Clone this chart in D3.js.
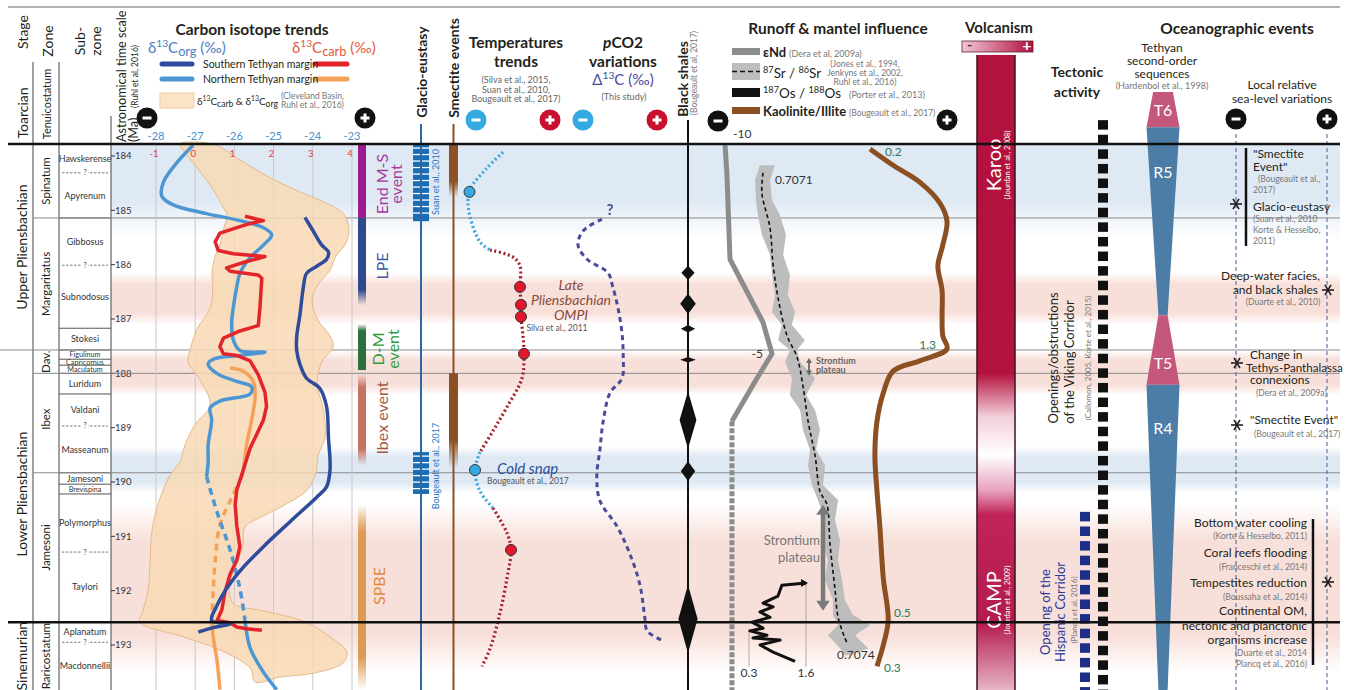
<!DOCTYPE html>
<html><head><meta charset="utf-8">
<script src="https://cdn.jsdelivr.net/npm/d3@7"></script>
<style>body{margin:0;background:#fff}svg{display:block;font-family:Lato,'Open Sans',sans-serif}</style>
</head><body><svg id="chart" width="1349" height="690"></svg>
<script>
// ---------------- DATA (ages in Ma) ----------------
const ageTicks = [184, 185, 186, 187, 188, 189, 190, 191, 192, 193];
const stageNames = ['Upper Pliensbachian', 'Lower Pliensbachian', 'Sinemurian'];
const stageBounds = [183.78, 187.57, 192.58, 193.83];
const zoneNames = ['Spinatum', 'Margaritatus', 'Dav.', 'Ibex', 'Jamesoni', 'Raricostatum'];
const zoneBounds = [183.78, 185.14, 187.57, 188.0, 189.83, 192.58, 193.83];
const subzoneNames = ['Hawskerense', 'Apyrenum', 'Gibbosus', 'Subnodosus', 'Stokesi', 'Figulinum', 'Capricornus',
  'Maculatum', 'Luridum', 'Valdani', 'Masseanum', 'Jamesoni', 'Brevispina', 'Polymorphus', 'Taylori', 'Aplanatum', 'Macdonnellii'];
const subzoneBounds = [183.78, 184.31, 185.14, 186.01, 187.17, 187.57, 187.74, 187.85, 188.0, 188.38, 188.97,
  189.83, 190.04, 190.22, 191.29, 192.58, 192.95, 193.83];
const subzoneUncertain = [184.31, 186.01, 188.97, 191.29, 192.95];

const bandFrom = [183.78, 186.15, 187.57, 189.35, 190.4];
const bandTo = [185.55, 187.1, 188.4, 190.2, 193.5];
const bandKind = ['blue', 'pink', 'pink', 'blue', 'pink'];

// carbon isotopes
const carbTicks = [-1, 0, 1, 2, 3, 4];
const orgTicks = [-28, -27, -26, -25, -24, -23];
const orgNorthAge = [183.8, 184.09, 184.48, 184.74, 184.90, 185.06, 185.19, 185.32, 185.45, 185.64, 185.87, 186.16, 186.41,
  186.80, 187.06, 187.38, 187.58, 187.61, 187.67, 187.74, 187.83, 188.0, 188.15, 188.25, 188.38, 188.51, 188.64, 188.86,
  189.32, 189.64, 189.90, 190.54, 191.25, 191.96, 192.54, 193.05, 193.50, 193.82];
const orgNorthVal = [-27.05, -27.43, -27.81, -27.85, -27.56, -26.71, -25.86, -25.26, -25.05, -25.26, -25.60, -25.86, -25.94,
  -26.03, -26.07, -26.03, -25.86, -25.22, -25.86, -26.54, -26.67, -26.45, -25.94, -25.56, -25.60, -26.37, -26.62, -26.58,
  -26.67, -26.67, -26.71, -26.45, -26.11, -25.86, -25.73, -25.60, -25.26, -24.92];
const orgNorthGap = [189.9, 192.54];
const orgSouthAge = [185.13, 185.38, 185.64, 185.77, 185.90, 186.03, 186.16, 186.41, 186.93, 187.32, 187.58, 187.83, 188.09,
  188.28, 188.61, 189.19, 189.77, 190.09, 190.28, 190.73, 191.19, 191.64, 191.96, 192.28, 192.55, 192.61, 192.68, 192.76];
const orgSouthVal = [-24.20, -23.99, -23.77, -23.60, -23.65, -23.90, -24.16, -24.24, -24.33, -24.41, -24.41, -24.33, -24.16,
  -23.82, -23.65, -23.60, -23.56, -23.65, -23.90, -24.58, -25.26, -25.86, -26.20, -26.45, -26.58, -26.11, -26.54, -26.92];
const carbSouthAge = [185.11, 185.19, 185.25, 185.42, 185.58, 185.74, 185.80, 185.85, 185.96, 186.06, 186.12, 186.19, 186.25,
  186.80, 187.12, 187.22, 187.35, 187.51, 187.64, 187.67, 187.77, 188.03, 188.35, 188.61, 188.86, 189.12, 189.38, 189.77,
  190.15, 190.41, 190.80, 191.19, 191.44, 191.70, 192.02, 192.35, 192.55, 192.59, 192.67, 192.70, 192.73];
const carbSouthVal = [1.27, 1.74, 1.36, 0.63, 0.51, 0.59, 0.97, 1.78, 1.23, 0.80, 0.89, 1.61, 1.70,
  1.65, 1.61, 1.14, 0.72, 0.63, 0.72, 1.06, 1.40, 1.61, 1.78, 1.82, 1.74, 1.57, 1.40, 1.23,
  1.06, 1.02, 1.06, 1.14, 1.06, 0.89, 0.76, 0.68, 0.56, 0.89, 1.06, 1.31, 1.70];
const carbNorthAge = [187.90, 187.96, 188.15, 188.41, 188.86, 189.32, 189.77, 189.90, 190.35, 190.80, 191.44, 192.02, 192.54,
  192.86, 193.25, 193.82];
const carbNorthVal = [0.89, 1.23, 1.48, 1.53, 1.44, 1.31, 1.23, 1.19, 0.89, 0.63, 0.51, 0.46, 0.42, 0.46, 0.55, 0.63];
const carbNorthGap = [189.9, 192.54];
// Cleveland Basin envelope (carb units), clockwise from top-left
const envAge = [183.78, 183.78, 184.07, 184.40, 184.66, 184.90, 185.09, 185.40, 185.64, 185.84, 186.10, 186.37, 186.65,
  187.02, 187.31, 187.52, 187.79, 188.21, 188.62, 189.19, 189.52, 189.83, 190.15, 190.42, 190.61, 190.83, 191.16, 191.49,
  191.84, 192.23, 192.37, 192.56, 192.85, 193.13, 193.33, 193.52, 193.59, 193.68, 193.42, 193.09, 192.83, 192.58, 192.36,
  191.99, 191.44, 190.88, 190.42, 190.15, 189.87, 189.63, 189.32, 188.95, 188.58, 188.12, 187.79, 187.57, 187.18, 186.80,
  186.41, 186.15, 185.84, 185.64, 185.38, 185.07, 184.94, 184.61, 184.22, 183.89];
const envVal = [-0.39, 0.45, 1.14, 1.91, 2.67, 3.44, 3.82, 3.92, 3.82, 3.59, 3.44, 3.13, 2.98,
  3.13, 3.44, 3.52, 3.23, 3.11, 3.26, 3.31, 3.13, 3.08, 2.85, 2.29, 1.78, 1.27, 1.22, 1.07,
  0.89, 0.96, 1.73, 2.75, 3.44, 3.87, 3.77, 3.01, 2.16, 1.53, 1.40, 0.63, -0.39, -1.41, -1.33,
  -1.20, -1.15, -1.10, -0.95, -0.82, -0.64, -0.39, -0.26, -0.01, 0.38, 0.12, -0.18, -0.13, 0.05, 0.38,
  0.45, 0.43, 0.51, 0.63, 0.71, 0.81, 0.71, 0.45, 0.05, -0.31];

// carbon panel events
const eventNames = ['End M-S event', 'LPE', 'D-M event', 'Ibex event', 'SPBE'];
const eventFrom = [183.78, 185.14, 187.09, 188.0, 190.42];
const eventTo = [185.14, 186.75, 187.94, 189.7, 193.83];

// glacio-eustasy and smectite events
const glacioFrom = [183.78, 189.45];
const glacioTo = [185.2, 190.22];
const smectiteFrom = [183.78, 188.0];
const smectiteTo = [184.75, 189.75];

// temperatures (relative index, cold 0 -> warm 10)
const tempAge = [183.93, 184.22, 184.61, 184.81, 185.12, 185.58, 185.73, 185.86, 186.02, 186.41, 186.74, 186.96, 187.31,
  187.64, 188.09, 188.62, 189.06, 189.45, 189.78, 190.17, 190.48, 190.94, 191.25, 191.77, 192.41, 193.07, 193.39];
const tempVal = [4.3, 2.7, 1.0, 0.8, 1.0, 2.0, 3.0, 5.3, 6.0, 6.0, 6.1, 6.1, 6.3, 6.4, 6.2, 4.7, 3.3, 2.0, 1.5, 2.0, 3.3,
  4.7, 5.1, 4.7, 4.0, 3.0, 2.2];
const tempColdFrom = [183.8, 189.5];
const tempColdTo = [185.78, 190.45];
const tempDotAge = [184.66, 186.41, 186.74, 186.96, 187.64, 189.78, 191.25];
const tempDotCold = [true, false, false, false, false, true, false];

// pCO2 (relative index)
const pco2Age = [185.16, 185.38, 185.64, 185.90, 186.15, 186.41, 186.80, 187.26, 187.70, 188.09, 188.36, 188.88, 189.39,
  189.91, 190.35, 190.81, 191.33, 191.90, 192.49, 192.74, 192.91];
const pco2Val = [2.75, 0.38, -0.25, 0.88, 3.5, 4.1, 4.75, 5.25, 5.4, 5.25, 3.75, 2.9, 2.5, 2.1, 2.5, 4.6, 6.25, 7.5, 8.1,
  8.4, 10.2];

// black shales: centre age, half duration (Ma), intensity
const shaleAge = [186.15, 186.72, 187.18, 187.75, 188.86, 189.8, 192.52];
const shaleHalf = [0.13, 0.19, 0.07, 0.05, 0.53, 0.18, 0.63];
const shaleInt = [0.55, 0.65, 0.6, 0.65, 0.7, 0.6, 0.8];

// runoff & mantle
const ndAge = [183.78, 184.35, 185.9, 187.06, 187.64, 188.09, 188.88];
const ndVal = [-10, -9.79, -9.47, -5.96, -5.0, -6.6, -9.26];
const ndDashedTo = 193.83;
const srAge = [184.31, 184.68, 185.33, 185.97, 186.61, 187.31, 187.70, 188.23, 188.88, 189.52, 190.17, 190.42, 191.12,
  191.97, 192.49, 192.87, 193.0];
const srVal = [0.707100, 0.707096, 0.707125, 0.707135, 0.707153, 0.707185, 0.707220, 0.707241, 0.707259, 0.707284,
  0.707301, 0.707326, 0.707336, 0.707354, 0.707365, 0.707389, 0.707400];
const srEnvAge = [184.17, 184.44, 184.81, 185.09, 185.45, 185.82, 186.19, 186.56, 186.87, 187.11, 187.39, 187.57, 187.79,
  188.09, 188.40, 188.68, 189.04, 189.41, 189.69, 190.06, 190.33, 190.70, 191.07, 191.44, 191.80, 192.17, 192.45, 192.63,
  192.82, 193.06, 193.19];
const srEnvLo = [0.707089, 0.707072, 0.707075, 0.707082, 0.707096, 0.707125, 0.707132, 0.707142, 0.707132, 0.707167,
  0.707153, 0.707195, 0.707178, 0.707202, 0.707195, 0.707231, 0.707241, 0.707266, 0.707259, 0.707273, 0.707294, 0.707319,
  0.707308, 0.707329, 0.707319, 0.707347, 0.707347, 0.707365, 0.707329, 0.707372, 0.707389];
const srEnvHi = [0.707142, 0.707125, 0.707132, 0.707160, 0.707181, 0.707171, 0.707195, 0.707188, 0.707213, 0.707202,
  0.707248, 0.707220, 0.707231, 0.707284, 0.707252, 0.707284, 0.707301, 0.707287, 0.707319, 0.707312, 0.707365, 0.707354,
  0.707372, 0.707365, 0.707379, 0.707389, 0.707418, 0.707478, 0.707425, 0.707471, 0.707407];
const srPlateauSmall = [187.72, 188.04];
const srPlateauBig = [190.42, 192.37];
const osAge = [191.86, 191.90, 192.10, 192.23, 192.30, 192.39, 192.49, 192.58, 192.69, 192.74, 192.82, 192.87, 192.91,
  193.0, 193.13, 193.30];
const osVal = [1.6, 1.05, 0.96, 0.62, 0.85, 0.55, 0.78, 0.37, 0.62, 0.32, 0.71, 0.39, 1.01, 0.55, 0.85, 1.35];
const kaolAge = [183.87, 184.17, 184.48, 184.87, 185.2, 185.64, 186.02, 186.48, 186.93, 187.31, 187.55, 187.77, 187.96,
  188.36, 188.88, 189.52, 190.17, 190.81, 191.77, 192.54, 193.0, 193.39];
const kaolVal = [0.2, 0.53, 0.91, 1.2, 1.3, 1.24, 1.17, 1.23, 1.23, 1.24, 1.3, 0.91, 0.53, 0.39, 0.3, 0.27, 0.3, 0.34,
  0.39, 0.46, 0.39, 0.3];

// volcanism & tectonics
const karooAge = [182.14, 188.3];
const campAge = [190.0, 193.83];
const vikingAge = [183.34, 193.83];
const hispanicAge = [190.55, 193.83];

// Tethyan 2nd-order sequences: relative amplitude at top / base
const seqNames = ['T6', 'R5', 'T5', 'R4'];
const seqTop = [182.82, 183.47, 186.93, 188.21];
const seqBase = [183.47, 186.93, 188.21, 193.83];
const seqAmpTop = [0.6, 1, 0.28, 1];
const seqAmpBase = [1, 0.28, 1, 0.28];

// ---------------- SET UP ----------------
const W = 1349, H = 690;
const svg = d3.select('#chart');
const defs = svg.append('defs');
const y = d3.scaleLinear().domain([184, 193]).range([156, 645]);
const X0 = 111, X1 = 1340;
const TOP = stageBounds[0], BASE = stageBounds[stageBounds.length - 1];
const yTop = y(TOP);

const carbX = d3.scaleLinear().domain([-1, 4]).range([156, 352]);
const orgX = d3.scaleLinear().domain([-28, -23]).range([156, 352]);
const tempX = d3.scaleLinear().domain([0, 10]).range([460, 560]);
const pco2X = d3.scaleLinear().domain([0, 10]).range([580, 660]);
const shaleW = d3.scaleLinear().domain([0, 1]).range([0, 12]);
const ndX = d3.scaleLinear().domain([-10, -5]).range([725, 772]);
const srX = d3.scaleLinear().domain([0.7071, 0.7074]).range([763, 848]);
const osX = d3.scaleLinear().domain([0.3, 1.6]).range([749, 806]);
const kaolX = d3.scaleLinear().domain([0.2, 1.3]).range([870, 947]);
const seqW = d3.scaleLinear().domain([0, 1]).range([0, 16.5]);

svg.append('rect').attr('width', W).attr('height', H).attr('fill', '#fff');

function txt(g, x, yy, s, o = {}) {
  const t = g.append('text').attr('x', x).attr('y', yy).text(s)
    .attr('font-size', o.size || 12).attr('fill', o.fill || '#231f20')
    .attr('text-anchor', o.anchor || 'start');
  if (o.weight) t.attr('font-weight', o.weight);
  if (o.italic) t.attr('font-style', 'italic');
  if (o.rot) t.attr('transform', `rotate(${o.rot},${x},${yy})`);
  if (o.dy) t.attr('dy', o.dy);
  return t;
}
function vtxt(x, yy, s, o = {}) { // vertical text centred at (x, yy)
  return txt(svg, x, yy, s, Object.assign({ anchor: 'middle', rot: -90, dy: '0.35em' }, o));
}
function rich(x, yy, parts, o = {}) {
  const size = o.size || 12;
  const t = txt(svg, x, yy, '', o);
  let shift = 0;
  parts.forEach(([s, k]) => {
    const target = k === 'sup' ? -0.4 * size : k === 'sub' ? 0.22 * size : 0;
    const ts = t.append('tspan').text(s).attr('dy', target - shift);
    shift = target;
    if (k) ts.attr('font-size', size * (k === 'sub' ? 0.85 : 0.68));
  });
  return t;
}
function sign(x, yy, s, fill) {
  svg.append('circle').attr('cx', x).attr('cy', yy).attr('r', 10.5).attr('fill', fill);
  svg.append('line').attr('x1', x - 4.5).attr('x2', x + 4.5).attr('y1', yy).attr('y2', yy)
    .attr('stroke', '#fff').attr('stroke-width', 3);
  if (s === '+') svg.append('line').attr('x1', x).attr('x2', x).attr('y1', yy - 4.5).attr('y2', yy + 4.5)
    .attr('stroke', '#fff').attr('stroke-width', 3);
}
function star(x, yy, c = '#231f20') {
  [0, 60, 120].forEach(a => {
    const r = 6, dx = r * Math.cos(a * Math.PI / 180), dy = r * Math.sin(a * Math.PI / 180);
    svg.append('line').attr('x1', x - dx).attr('x2', x + dx).attr('y1', yy - dy).attr('y2', yy + dy)
      .attr('stroke', c).attr('stroke-width', 1.6);
  });
}
function vgrad(id, stops) {
  const g = defs.append('linearGradient').attr('id', id).attr('x1', 0).attr('x2', 0).attr('y1', 0).attr('y2', 1);
  stops.forEach(([o, c, a]) => g.append('stop').attr('offset', o).attr('stop-color', c).attr('stop-opacity', a == null ? 1 : a));
}
function runs(ages, vals, inGap) {
  const out = [];
  let cur = null;
  for (let i = 0; i < ages.length - 1; i++) {
    const d = inGap((ages[i] + ages[i + 1]) / 2);
    if (!cur || cur.dash !== d) { cur = { dash: d, pts: [[ages[i], vals[i]]] }; out.push(cur); }
    cur.pts.push([ages[i + 1], vals[i + 1]]);
  }
  return out;
}
function series(ages, vals, xs, o) {
  const line = d3.line().x(d => xs(d[1])).y(d => y(d[0])).curve(o.curve || d3.curveLinear);
  const gap = o.gap || [];
  runs(ages, vals, a => gap.some(([f, t]) => a > f && a < t)).forEach(r => {
    svg.append('path').attr('d', line(r.pts)).attr('fill', 'none').attr('stroke', o.color)
      .attr('stroke-width', o.width || 3.5).attr('stroke-linejoin', 'round')
      .attr('stroke-dasharray', r.dash ? (o.dash || '7 5') : null);
  });
}

// ---------------- BACKGROUND BANDS ----------------
const BLUE = '#dfe9f4', PINK = '#f8e0da';
vgrad('band-blue', [[0, BLUE, 0], [0.22, BLUE], [0.78, BLUE], [1, BLUE, 0]]);
vgrad('band-pink', [[0, PINK, 0], [0.22, PINK], [0.78, PINK], [1, PINK, 0]]);
vgrad('band-blue-top', [[0, BLUE], [0.6, BLUE], [0.78, BLUE, 0.45], [1, BLUE, 0]]);
bandFrom.forEach((f, i) => {
  const id = bandKind[i] === 'blue' && f === TOP ? 'band-blue-top' : 'band-' + bandKind[i];
  svg.append('rect').attr('x', X0).attr('width', X1 - X0).attr('y', y(f)).attr('height', y(bandTo[i]) - y(f))
    .attr('fill', `url(#${id})`);
});

// ---------------- STRATIGRAPHY COLUMNS ----------------
svg.append('line').attr('x1', 8).attr('x2', X1).attr('y1', 7).attr('y2', 7).attr('stroke', '#666').attr('stroke-width', 1);
[33, 59].forEach(x => svg.append('line').attr('x1', x).attr('x2', x).attr('y1', 62).attr('y2', H)
  .attr('stroke', '#444').attr('stroke-width', 1));
svg.append('line').attr('x1', X0).attr('x2', X0).attr('y1', 116).attr('y2', H).attr('stroke', '#444');

vtxt(23, 32, 'Stage', { size: 14 });
vtxt(48, 41, 'Zone', { size: 14 });
vtxt(80, 41, 'Sub-', { size: 14 });
vtxt(96, 41, 'zone', { size: 14 });
vtxt(23, 113, 'Toarcian', { size: 14 });
vtxt(47, 104, 'Tenuicostatum', { size: 11 });
txt(svg, 122, 142, 'Astronomical time scale', { size: 12.6, rot: -90, dy: '0.35em' });
txt(svg, 134, 142, '(Ma)', { size: 12.6, rot: -90, dy: '0.35em' });
txt(svg, 135, 108, '(Ruhl et al, 2016)', { size: 8.5, rot: -90, dy: '0.35em' });

stageNames.forEach((n, i) => vtxt(22, y((stageBounds[i] + stageBounds[i + 1]) / 2) + (i === 1 ? 8 : 0), n, { size: 14 }));
zoneNames.forEach((n, i) => vtxt(46, y((zoneBounds[i] + zoneBounds[i + 1]) / 2) + (i === 3 ? -4 : 0), n,
  { size: 11.5 }));
subzoneNames.forEach((n, i) => {
  const h = y(subzoneBounds[i + 1]) - y(subzoneBounds[i]);
  txt(svg, 85, (y(subzoneBounds[i]) + y(subzoneBounds[i + 1])) / 2, n,
    { size: h < 10 ? 7.2 : 9, anchor: 'middle', dy: '0.35em', fill: '#333' });
});
subzoneBounds.slice(1, -1).forEach(b => {
  if (subzoneUncertain.includes(b)) {
    svg.append('line').attr('x1', 62).attr('x2', 108).attr('y1', y(b)).attr('y2', y(b))
      .attr('stroke', '#555').attr('stroke-width', 0.8).attr('stroke-dasharray', '2.5 1.5');
    svg.append('rect').attr('x', 82).attr('y', y(b) - 4).attr('width', 6).attr('height', 8).attr('fill', '#fff');
    txt(svg, 85, y(b), '?', { size: 7, anchor: 'middle', dy: '0.35em', fill: '#444' });
  } else {
    svg.append('line').attr('x1', 59).attr('x2', X0).attr('y1', y(b)).attr('y2', y(b)).attr('stroke', '#555');
  }
});
ageTicks.forEach(a => {
  svg.append('line').attr('x1', X0).attr('x2', X0 + 4).attr('y1', y(a)).attr('y2', y(a)).attr('stroke', '#333');
  txt(svg, X0 + 4, y(a), a, { size: 9.5, dy: '0.35em', fill: '#333' });
});

// thin age lines across all panels
[185.14, 187.57, 188.0, 189.83].forEach(b => {
  svg.append('line').attr('x1', b === 187.57 ? 0 : 33).attr('x2', X1).attr('y1', y(b)).attr('y2', y(b))
    .attr('stroke', '#8a8a8a').attr('stroke-width', 1);
});

// ---------------- CARBON ISOTOPES ----------------
carbTicks.forEach(t => svg.append('line').attr('x1', carbX(t)).attr('x2', carbX(t)).attr('y1', yTop).attr('y2', H)
  .attr('stroke', '#c8c8c8').attr('stroke-width', 1));
const envLine = d3.line().x(d => carbX(d[1])).y(d => y(d[0])).curve(d3.curveCatmullRomClosed.alpha(0.5));
svg.append('path').attr('d', envLine(envAge.map((a, i) => [a, envVal[i]])))
  .attr('fill', '#f8d9b4').attr('fill-opacity', 0.85).attr('stroke', '#e7b98a').attr('stroke-width', 1);

series(carbNorthAge, carbNorthVal, carbX, { color: '#f4a25a', curve: d3.curveCatmullRom, gap: [carbNorthGap] });
series(orgNorthAge, orgNorthVal, orgX, { color: '#4b96d3', gap: [orgNorthGap], curve: d3.curveCatmullRom.alpha(0.5) });
series(carbSouthAge, carbSouthVal, carbX, { color: '#e3242b' });
series(orgSouthAge, orgSouthVal, orgX, { color: '#2e4c9b', curve: d3.curveCatmullRom.alpha(0.5) });

txt(svg, 252, 35, 'Carbon isotope trends', { size: 15.5, weight: 'bold', anchor: 'middle' });
rich(148, 53, [['δ'], ['13', 'sup'], ['C'], ['org', 'sub'], [' (‰)']], { size: 15, fill: '#4a80c4' });
rich(292, 53, [['δ'], ['13', 'sup'], ['C'], ['carb', 'sub'], [' (‰)']], { size: 15, fill: '#e05a3c' });
[['#2e4c9b', '#e3242b', 'Southern Tethyan margin', 64], ['#4b96d3', '#f4a25a', 'Northern Tethyan margin', 79]]
  .forEach(([c1, c2, s, yy]) => {
    svg.append('line').attr('x1', 162).attr('x2', 192).attr('y1', yy).attr('y2', yy).attr('stroke', c1)
      .attr('stroke-width', 5).attr('stroke-linecap', 'round');
    svg.append('line').attr('x1', 315).attr('x2', 347).attr('y1', yy).attr('y2', yy).attr('stroke', c2)
      .attr('stroke-width', 5).attr('stroke-linecap', 'round');
    txt(svg, 203, yy + 3.5, s, { size: 10.5 });
  });
svg.append('rect').attr('x', 160).attr('y', 93).attr('width', 34).attr('height', 15).attr('fill', '#fbe3c6')
  .attr('stroke', '#efcfa6');
rich(197, 105, [['δ'], ['13', 'sup'], ['C'], ['carb', 'sub'], [' & δ'], ['13', 'sup'], ['C'], ['org', 'sub']], { size: 10 });
txt(svg, 281, 99, '(Cleveland Basin,', { size: 8.5, fill: '#777' });
txt(svg, 281, 108, 'Ruhl et al., 2016)', { size: 8.5, fill: '#777' });
sign(147, 118, '-', '#111');
sign(365, 118, '+', '#111');
orgTicks.forEach(t => txt(svg, orgX(t), 140, t, { size: 11, anchor: 'middle', fill: '#4a8fd0' }));
carbTicks.forEach(t => txt(svg, carbX(t) - 2, 157, t, { size: 9.5, anchor: 'middle', fill: '#e0404a' }));

// event bars
const eventColor = ['#9b1c8e', '#2e4a8d', '#2f6f3f', '#c57463', '#dc9a55'];
const eventText = ['#a83898', '#3e58a5', '#2f9a3c', '#a65540', '#e2893e'];
const eventFade = [[0, 0], [0, 1], [1, 0], [1, 1], [1, 1]];
eventNames.forEach((n, i) => {
  const c = eventColor[i];
  vgrad('ev' + i, [[0, c, eventFade[i][0] ? 0 : 1], [0.15, c], [0.82, c], [1, c, eventFade[i][1] ? 0 : 1]]);
  svg.append('rect').attr('x', 358).attr('width', 8).attr('y', y(eventFrom[i]))
    .attr('height', y(eventTo[i]) - y(eventFrom[i])).attr('fill', `url(#ev${i})`);
});
vtxt(382, 184, 'End M-S', { size: 16, fill: eventText[0] });
vtxt(396, 184, 'event', { size: 16, fill: eventText[0] });
vtxt(382, 266, 'LPE', { size: 16, fill: eventText[1] });
vtxt(378, 349, 'D-M', { size: 16, fill: eventText[2] });
vtxt(393, 349, 'event', { size: 16, fill: eventText[2] });
vtxt(382, 418, 'Ibex event', { size: 16, fill: eventText[3] });
vtxt(379, 586, 'SPBE', { size: 16, fill: eventText[4] });

// ---------------- GLACIO-EUSTASY & SMECTITE ----------------
vtxt(422, 72, 'Glacio-eustasy', { size: 14, weight: 'bold' });
vtxt(454, 68, 'Smectite events', { size: 14, weight: 'bold' });
glacioFrom.forEach((f, i) => {
  const y0 = y(f), y1 = y(glacioTo[i]);
  svg.append('rect').attr('x', 413).attr('width', 16).attr('y', y0).attr('height', y1 - y0).attr('fill', '#1a6db3');
  for (let yy = y0 + 4; yy < y1 - 2; yy += 6.5) svg.append('line').attr('x1', 413).attr('x2', 429)
    .attr('y1', yy).attr('y2', yy).attr('stroke', '#fff').attr('stroke-width', 1.3);
});
svg.append('line').attr('x1', 421).attr('x2', 421).attr('y1', 124).attr('y2', H).attr('stroke', '#2d67a8')
  .attr('stroke-width', 2);
vtxt(436, 182, 'Suan et al., 2010', { size: 9, fill: '#2a7ac0' });
vtxt(436, 466, 'Bougeault et al., 2017', { size: 9, fill: '#2a7ac0' });
vgrad('smect', [[0, '#8b5124'], [0.7, '#8b5124'], [1, '#8b5124', 0]]);
smectiteFrom.forEach((f, i) => svg.append('rect').attr('x', 449).attr('width', 9).attr('y', y(f))
  .attr('height', y(smectiteTo[i]) - y(f)).attr('fill', 'url(#smect)'));
svg.append('line').attr('x1', 453.5).attr('x2', 453.5).attr('y1', 124).attr('y2', H).attr('stroke', '#8b5124')
  .attr('stroke-width', 2);

// ---------------- TEMPERATURES ----------------
txt(svg, 516, 48, 'Temperatures', { size: 15.5, weight: 'bold', anchor: 'middle' });
txt(svg, 516, 67, 'trends', { size: 15.5, weight: 'bold', anchor: 'middle' });
['(Silva et al., 2015,', 'Suan et al., 2010,', 'Bougeault et al., 2017)'].forEach((s, i) =>
  txt(svg, 516, 83 + i * 9.5, s, { size: 9, anchor: 'middle', fill: '#666' }));
sign(476, 120, '-', '#35a9e1');
sign(550, 120, '+', '#c8102e');
{
  const inCold = a => tempColdFrom.some((f, i) => a >= f && a <= tempColdTo[i]);
  const line = d3.line().x(d => tempX(d[1])).y(d => y(d[0])).curve(d3.curveCatmullRom.alpha(0.5));
  runs(tempAge, tempVal, inCold).forEach(r => svg.append('path').attr('d', line(r.pts)).attr('fill', 'none')
    .attr('stroke', r.dash ? '#3aa7de' : '#a51c2a').attr('stroke-width', 3.2).attr('stroke-dasharray', '2 2.6'));
  const interp = a => { const i = d3.bisectRight(tempAge, a) - 1; const t = (a - tempAge[i]) / (tempAge[i + 1] - tempAge[i]);
    return tempVal[i] + t * (tempVal[i + 1] - tempVal[i]); };
  tempDotAge.forEach((a, i) => svg.append('circle').attr('cx', tempX(interp(a))).attr('cy', y(a)).attr('r', 5.5)
    .attr('fill', tempDotCold[i] ? '#35a9e1' : '#e3172c').attr('stroke', '#333').attr('stroke-width', 1));
}
['Late', 'Pliensbachian', 'OMPI'].forEach((s, i) =>
  txt(svg, 571, 290 + i * 15, s, { size: 14, italic: true, anchor: 'middle', fill: '#8a4a3c' }));
txt(svg, 557, 331, 'Silva et al., 2011', { size: 8.5, anchor: 'middle', fill: '#555' });
txt(svg, 497, 474, 'Cold snap', { size: 15, italic: true, fill: '#28509a' });
txt(svg, 487, 484, 'Bougeault et al., 2017', { size: 8.5, fill: '#555' });

// ---------------- pCO2 ----------------
rich(623, 48, [['p'], ['CO2']], { size: 15.5, weight: 'bold', anchor: 'middle' }).select('tspan').attr('font-style', 'italic');
txt(svg, 623, 67, 'variations', { size: 15.5, weight: 'bold', anchor: 'middle' });
rich(623, 85, [['Δ'], ['13', 'sup'], ['C (‰)']], { size: 15, anchor: 'middle', fill: '#4a48a0' });
txt(svg, 624, 100, '(This study)', { size: 9, anchor: 'middle', fill: '#666' });
sign(583, 120, '-', '#35a9e1');
sign(657, 120, '+', '#c8102e');
series(pco2Age, pco2Val, pco2X, { color: '#4b4a9c', width: 3, curve: d3.curveCatmullRom.alpha(0.5),
  gap: [[0, 1000]], dash: '5 4' });
txt(svg, 610, 215, '?', { size: 15, weight: 'bold', anchor: 'middle', fill: '#4b4a9c' });

// ---------------- BLACK SHALES ----------------
vtxt(683, 79, 'Black shales', { size: 14, weight: 'bold' });
vtxt(694, 73, '(Bougeault et al, 2017)', { size: 8.5, fill: '#777' });
svg.append('line').attr('x1', 688).attr('x2', 688).attr('y1', 120).attr('y2', H).attr('stroke', '#111')
  .attr('stroke-width', 2);
shaleAge.forEach((a, i) => {
  const cx = 688, w = shaleW(shaleInt[i]), t = y(a - shaleHalf[i]), b = y(a + shaleHalf[i]), m = y(a);
  svg.append('path').attr('d', `M${cx},${t}L${cx + w},${m}L${cx},${b}L${cx - w},${m}Z`).attr('fill', '#111');
});

// ---------------- RUNOFF & MANTLE ----------------
txt(svg, 838, 34, 'Runoff & mantel influence', { size: 15.5, weight: 'bold', anchor: 'middle' });
svg.append('rect').attr('x', 732).attr('y', 48).attr('width', 28).attr('height', 7).attr('fill', '#8c8c8c');
txt(svg, 763, 57, 'εNd', { size: 13, weight: 'bold' });
txt(svg, 789, 57, '(Dera et al, 2009a)', { size: 9, fill: '#777' });
svg.append('rect').attr('x', 732).attr('y', 63).attr('width', 28).attr('height', 17).attr('fill', '#bdbdbd');
svg.append('line').attr('x1', 732).attr('x2', 760).attr('y1', 71.5).attr('y2', 71.5).attr('stroke', '#111')
  .attr('stroke-width', 1.6).attr('stroke-dasharray', '5 3');
rich(763, 78, [['87', 'sup'], ['Sr / '], ['86', 'sup'], ['Sr']], { size: 13.5 });
['(Jones et al., 1994,', 'Jenkyns et al., 2002,', 'Ruhl et al., 2016)'].forEach((s, i) =>
  txt(svg, 865, 67 + i * 9, s, { size: 8.5, anchor: 'middle', fill: '#777' }));
svg.append('rect').attr('x', 732).attr('y', 88).attr('width', 28).attr('height', 9).attr('fill', '#111');
rich(763, 98, [['187', 'sup'], ['Os / '], ['188', 'sup'], ['Os']], { size: 13.5 });
txt(svg, 849, 98, '(Porter et al., 2013)', { size: 9, fill: '#777' });
svg.append('rect').attr('x', 732).attr('y', 107).attr('width', 28).attr('height', 7).attr('fill', '#8b4f22');
txt(svg, 763, 116, 'Kaolinite/Illite', { size: 13, weight: 'bold' });
txt(svg, 849, 116, '(Bougeault et al., 2017)', { size: 8.5, fill: '#777' });
sign(718, 121, '-', '#111');
sign(947, 120, '+', '#111');

// Sr envelope + curve
const envPts = srEnvAge.map((a, i) => [a, srEnvLo[i]]).concat(srEnvAge.map((a, i) => [a, srEnvHi[i]]).reverse());
svg.append('path').attr('d', d3.line().x(d => srX(d[1])).y(d => y(d[0]))(envPts) + 'Z').attr('fill', '#bdbdbd');
svg.append('path').attr('d', d3.line().x(d => srX(d[1])).y(d => y(d[0])).curve(d3.curveCatmullRom)(srAge.map((a, i) => [a, srVal[i]])))
  .attr('fill', 'none').attr('stroke', '#111').attr('stroke-width', 1.6).attr('stroke-dasharray', '4 3');
txt(svg, 775, 184, '0.7071', { size: 12, fill: '#333' });
txt(svg, 837, 659, '0.7074', { size: 12, fill: '#333' });

// eNd
series(ndAge, ndVal, ndX, { color: '#8c8c8c', width: 5 });
svg.append('line').attr('x1', ndX(ndVal[ndVal.length - 1])).attr('x2', ndX(ndVal[ndVal.length - 1]))
  .attr('y1', y(ndAge[ndAge.length - 1])).attr('y2', y(ndDashedTo)).attr('stroke', '#8c8c8c').attr('stroke-width', 5)
  .attr('stroke-dasharray', '5 2');
txt(svg, 733, 138, '-10', { size: 12, fill: '#333' });
txt(svg, 763, 358, '-5', { size: 12, fill: '#333', anchor: 'end' });

// strontium plateau arrows
function dblArrow(x, a0, a1, w, head, c) {
  const t = y(a0), b = y(a1);
  svg.append('line').attr('x1', x).attr('x2', x).attr('y1', t + head).attr('y2', b - head).attr('stroke', c).attr('stroke-width', w);
  svg.append('path').attr('d', `M${x},${t}L${x + head * 0.75},${t + head + 1}L${x - head * 0.75},${t + head + 1}Z`).attr('fill', c);
  svg.append('path').attr('d', `M${x},${b}L${x + head * 0.75},${b - head - 1}L${x - head * 0.75},${b - head - 1}Z`).attr('fill', c);
}
dblArrow(809, srPlateauSmall[0], srPlateauSmall[1], 1.8, 4, '#666');
txt(svg, 816, 364, 'Strontium', { size: 9, weight: 'bold', fill: '#666' });
txt(svg, 816, 373, 'plateau', { size: 9, weight: 'bold', fill: '#666' });
dblArrow(823, srPlateauBig[0], srPlateauBig[1], 4.5, 9, '#7a7a7a');
txt(svg, 820, 545, 'Strontium', { size: 13, fill: '#777', anchor: 'end' });
txt(svg, 820, 562, 'plateau', { size: 13, fill: '#777', anchor: 'end' });

// Os
[0.3, 1.6].forEach(v => svg.append('line').attr('x1', osX(v)).attr('x2', osX(v))
  .attr('y1', y(v === 1.6 ? osAge[0] : 192.7)).attr('y2', y(193.4)).attr('stroke', '#aaa').attr('stroke-width', 1));
series(osAge, osVal, osX, { color: '#111', width: 3 });
svg.append('path').attr('d', `M${osX(osVal[0]) + 2},${y(osAge[0])}l-7,-4l0,8z`).attr('fill', '#111');
txt(svg, osX(0.3), 677, '0.3', { size: 12, anchor: 'middle', fill: '#333' });
txt(svg, osX(1.6), 677, '1.6', { size: 12, anchor: 'middle', fill: '#333' });

// kaolinite / illite
series(kaolAge, kaolVal, kaolX, { color: '#8b4f22', width: 5, curve: d3.curveCatmullRom.alpha(0.5) });
const kc = '#2a7a5a';
txt(svg, 885, 156, '0.2', { size: 12, fill: kc });
txt(svg, 936, 349, '1.3', { size: 12, fill: kc, anchor: 'end' });
txt(svg, 894, 617, '0.5', { size: 12, fill: kc });
txt(svg, 884, 672, '0.3', { size: 12, fill: kc });

// ---------------- VOLCANISM ----------------
txt(svg, 999, 33, 'Volcanism', { size: 15, weight: 'bold', anchor: 'middle' });
{
  const g = defs.append('linearGradient').attr('id', 'volcH');
  g.append('stop').attr('offset', 0).attr('stop-color', '#f3c6d7');
  g.append('stop').attr('offset', 1).attr('stop-color', '#b0103e');
  svg.append('rect').attr('x', 962).attr('y', 41).attr('width', 71).attr('height', 11).attr('fill', 'url(#volcH)')
    .attr('stroke', '#5a2030').attr('stroke-width', 0.8);
  txt(svg, 967, 50, '-', { size: 14, weight: 'bold', fill: '#333' });
  txt(svg, 1027, 51, '+', { size: 16, weight: 'bold', fill: '#fff', anchor: 'middle' });
  const y0 = y(karooAge[0]), y1 = y(BASE), off = a => (y(a) - y0) / (y1 - y0);
  vgrad('volcV', [[0, '#b3123f'], [off(karooAge[1] - 0.3), '#b3123f'], [off(karooAge[1] + 0.5), '#f2cfd9'],
    [off((karooAge[1] + campAge[0]) / 2 + 0.35), '#ffffff'], [off(campAge[0] + 0.15), '#e8a3bf'],
    [off(campAge[0] + 0.6), '#c0245a'], [off(192.6), '#b51b4f'], [1, '#e8b5c8']]);
  svg.append('rect').attr('x', 977).attr('y', y0).attr('width', 38).attr('height', y1 - y0).attr('fill', 'url(#volcV)');
  [977, 1015].forEach(x => svg.append('line').attr('x1', x).attr('x2', x).attr('y1', y0).attr('y2', y1)
    .attr('stroke', '#3a1020').attr('stroke-width', 1.5));
  vtxt(994, 165, 'Karoo', { size: 20, fill: '#fff' });
  vtxt(1007, 165, '(Jourdan et al., 2008)', { size: 7.5, fill: '#fff' });
  vtxt(994, 600, 'CAMP', { size: 20, fill: '#fff' });
  vtxt(1007, 600, '(Jourdan et al., 2009)', { size: 7.5, fill: '#fff' });
}

// ---------------- TECTONIC ----------------
txt(svg, 1077, 77, 'Tectonic', { size: 14, weight: 'bold', anchor: 'middle' });
txt(svg, 1077, 97, 'activity', { size: 14, weight: 'bold', anchor: 'middle' });
for (let yy = y(vikingAge[0]); yy < y(vikingAge[1]); yy += 14.6)
  svg.append('rect').attr('x', 1098).attr('y', yy).attr('width', 10).attr('height', 9.5).attr('fill', '#111');
for (let yy = y(hispanicAge[0]); yy < y(hispanicAge[1]); yy += 14.6)
  svg.append('rect').attr('x', 1080).attr('y', yy).attr('width', 10).attr('height', 9.5).attr('fill', '#1d2d8a');
vtxt(1053, 358, 'Openings/obstructions', { size: 13 });
vtxt(1069, 362, 'of the Viking Corridor', { size: 13 });
vtxt(1088, 358, '(Callomon, 2005, Korte et al., 2015)', { size: 8, fill: '#777' });
vtxt(1045, 612, 'Opening of the', { size: 13, fill: '#2a3a9a' });
vtxt(1060, 612, 'Hispanic Corridor', { size: 13, fill: '#2a3a9a' });
vtxt(1074, 610, '(Plancq et al, 2016)', { size: 8, fill: '#777' });

// ---------------- OCEANOGRAPHIC EVENTS ----------------
txt(svg, 1237, 34, 'Oceanographic events', { size: 15.5, weight: 'bold', anchor: 'middle' });
['Tethyan', 'second-order', 'sequences'].forEach((s, i) => txt(svg, 1162, 52 + i * 13, s, { size: 12, anchor: 'middle' }));
txt(svg, 1162, 89, '(Hardenbol et al., 1998)', { size: 9, anchor: 'middle', fill: '#777' });
seqNames.forEach((n, i) => {
  const cx = 1163, t = y(seqTop[i]), b = y(seqBase[i]), wt = seqW(seqAmpTop[i]), wb = seqW(seqAmpBase[i]);
  svg.append('path').attr('d', `M${cx - wt},${t}L${cx + wt},${t}L${cx + wb},${b}L${cx - wb},${b}Z`)
    .attr('fill', n[0] === 'T' ? '#c3577c' : '#4b7da6');
});
[['T6', 110], ['R5', 172], ['T5', 363], ['R4', 428]].forEach(([s, yy]) =>
  txt(svg, 1163, yy, s, { size: 16, anchor: 'middle', dy: '0.35em', fill: '#fff' }));

txt(svg, 1282, 89, 'Local relative', { size: 12, anchor: 'middle' });
txt(svg, 1282, 103, 'sea-level variations', { size: 12, anchor: 'middle' });
[1236, 1327].forEach(x => svg.append('line').attr('x1', x).attr('x2', x).attr('y1', 134).attr('y2', H)
  .attr('stroke', '#4a5a9a').attr('stroke-width', 1).attr('stroke-dasharray', '4 3'));
sign(1236, 119, '-', '#111');
sign(1327, 119, '+', '#111');

const G = { size: 8.5, fill: '#777' };
const M = 12;
svg.append('line').attr('x1', 1246).attr('x2', 1246).attr('y1', 148).attr('y2', 246).attr('stroke', '#111').attr('stroke-width', 2.5);
txt(svg, 1253, 158, '"Smectite', { size: M });
txt(svg, 1253, 171, 'Event"', { size: M });
txt(svg, 1258, 182, '(Bougeault et al.,', G);
txt(svg, 1253, 193, '2017)', G);
star(1236, 204);
txt(svg, 1253, 211, 'Glacio-eustasy', { size: M });
txt(svg, 1253, 222, '(Suan et al., 2010', G);
txt(svg, 1253, 233, 'Korte & Hesselbo,', G);
txt(svg, 1253, 244, '2011)', G);

txt(svg, 1320, 280, 'Deep-water facies,', { size: M, anchor: 'end' });
txt(svg, 1318, 294, 'and black shales', { size: M, anchor: 'end' });
star(1328, 290);
txt(svg, 1283, 305, '(Duarte et al., 2010)', Object.assign({ anchor: 'middle' }, G));

star(1237, 363);
txt(svg, 1250, 359, 'Change in', { size: M });
txt(svg, 1246, 372, 'Tethys-Panthalassa', { size: 11.6 });
txt(svg, 1250, 384, 'connexions', { size: M });
txt(svg, 1256, 396, '(Dera et al., 2009a)', G);

star(1237, 425);
txt(svg, 1250, 424, '"Smectite Event"', { size: M });
txt(svg, 1254, 437, '(Bougeault et al., 2017)', G);

svg.append('line').attr('x1', 1313).attr('x2', 1313).attr('y1', 519).attr('y2', 665).attr('stroke', '#111').attr('stroke-width', 2.5);
star(1328, 582);
[['Bottom water cooling', 527, 1], ['(Korte & Hesselbo, 2011)', 539, 0], ['Coral reefs flooding', 557, 1],
 ['(Franceschi et al., 2014)', 570, 0], ['Tempestites reduction', 587, 1], ['(Boussaha et al., 2014)', 600, 0],
 ['Continental OM,', 615, 1], ['nectonic and planctonic', 630, 1], ['organisms increase', 644, 1],
 ['(Duarte et al., 2014', 656, 0], ['Plancq et al., 2016)', 667, 0]].forEach(([s, yy, main]) =>
  txt(svg, 1307, yy, s, main ? { size: M, anchor: 'end' } : Object.assign({ anchor: 'end' }, G)));

// ---------------- HEAVY STAGE BOUNDARIES ----------------
[TOP, 192.58].forEach(b => svg.append('line').attr('x1', 8).attr('x2', X1).attr('y1', y(b)).attr('y2', y(b))
  .attr('stroke', '#111').attr('stroke-width', 2.6));
</script></body></html>
